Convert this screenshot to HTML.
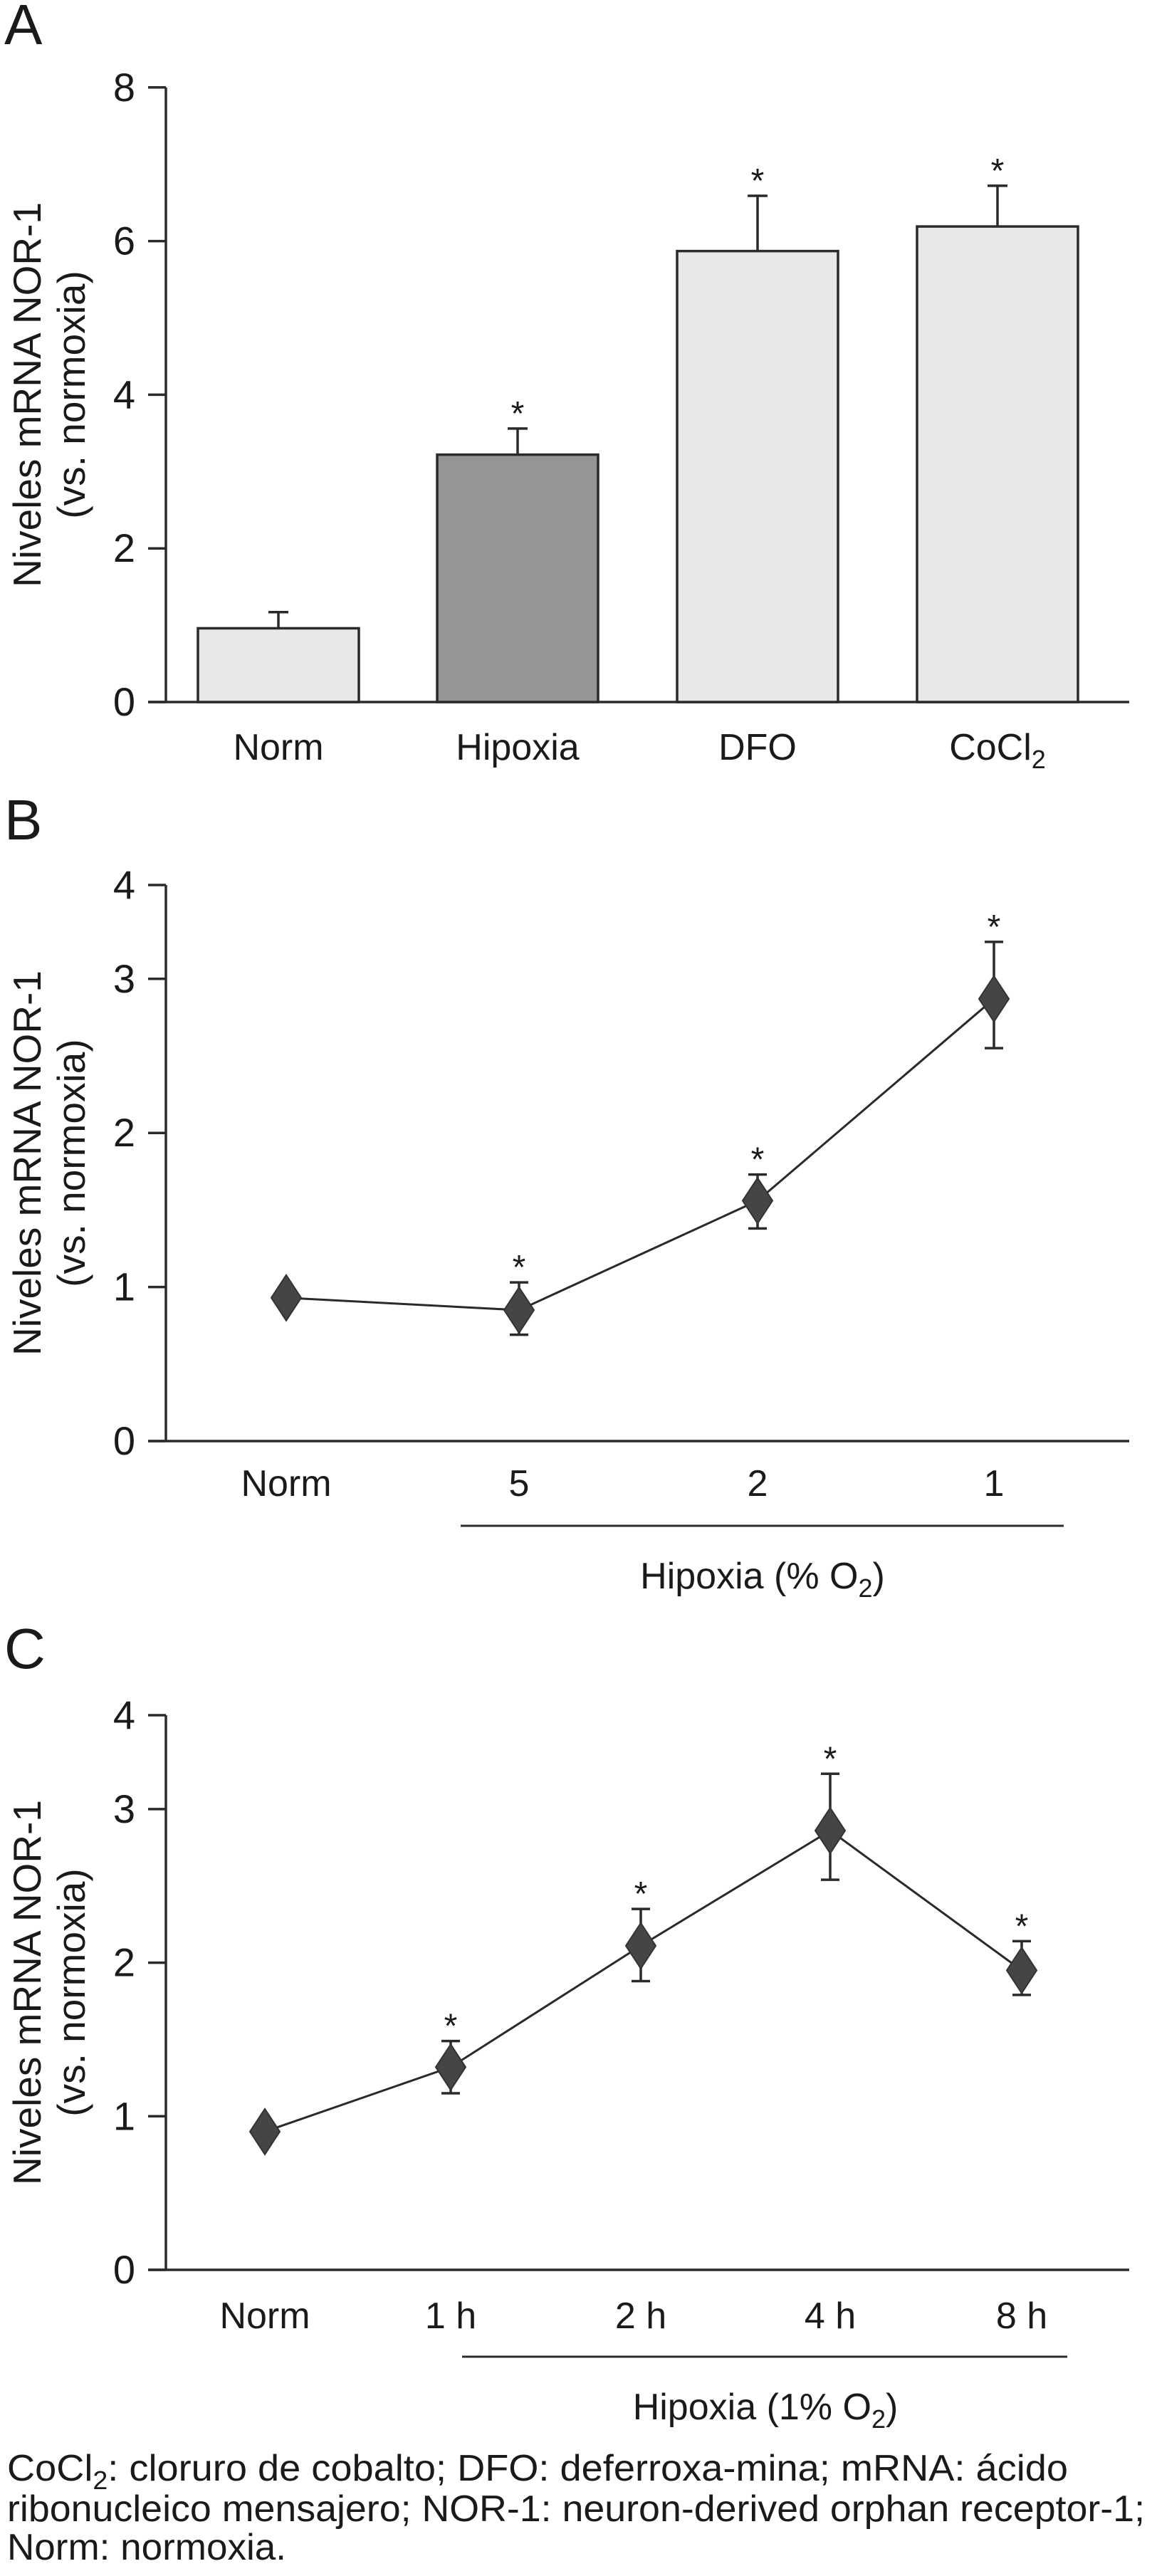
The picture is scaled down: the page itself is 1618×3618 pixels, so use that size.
<!DOCTYPE html>
<html><head><meta charset="utf-8"><style>
html,body{margin:0;padding:0;background:#fff}
svg{display:block}
text{font-family:"Liberation Sans",Arial,sans-serif;fill:#1a1a1a}
</style></head><body>
<svg id="fig" width="1618" height="3618" viewBox="0 0 1618 3618" xmlns="http://www.w3.org/2000/svg">
<g id="pa"></g>
<g id="pb"></g>
<g id="pc"></g>
<g font-size="52">
<text x="10" y="3484" textLength="1490" lengthAdjust="spacingAndGlyphs">CoCl<tspan font-size="36" dy="12">2</tspan><tspan dy="-12">: cloruro de cobalto; DFO: deferroxa-mina; mRNA: ácido</tspan></text>
<text x="10" y="3541" textLength="1598" lengthAdjust="spacingAndGlyphs">ribonucleico mensajero; NOR-1: neuron-derived orphan receptor-1;</text>
<text x="10" y="3595" textLength="392" lengthAdjust="spacingAndGlyphs">Norm: normoxia.</text>
</g>
</svg>
<script>
// Panel A data
const aCats = ["Norm","Hipoxia","DFO","CoCl"];
const aVals = [0.96, 3.22, 5.87, 6.19];
const aErr = [1.17, 3.56, 6.59, 6.72];
const aTicks = [0,2,4,6,8];
// Panel B data
const bCats = ["Norm","5","2","1"];
const bVals = [0.93, 0.85, 1.56, 2.87];
const bErrHi = [null, 1.03, 1.73, 3.24];
const bErrLo = [null, 0.69, 1.38, 2.55];
const bTicks = [0,1,2,3,4];
// Panel C data
const cCats = ["Norm","1 h","2 h","4 h","8 h"];
const cVals = [0.90, 1.32, 2.11, 2.86, 1.95];
const cErrHi = [null, 1.49, 2.35, 3.23, 2.14];
const cErrLo = [null, 1.15, 1.88, 2.54, 1.79];
const cTicks = [0,1,2,3,4];

const NS="http://www.w3.org/2000/svg";
const STROKE="#2a2a2a";
function mk(parent,tag,attrs,txt){const e=document.createElementNS(NS,tag);for(const k in attrs)e.setAttribute(k,attrs[k]);if(txt!==undefined)e.textContent=txt;parent.appendChild(e);return e;}

function axes(g,y0,unit,ticks,topTickY,letter,letterY){
  const ax=233;
  const yScale=v=>y0-unit*v;
  let l=mk(g,'text',{x:6,y:letterY,'font-size':80});l.textContent=letter;
  
  
  const yTop=topTickY;
  let a=mk(g,'line',{x1:ax,y1:yTop,x2:ax,y2:y0,stroke:STROKE,'stroke-width':3.5});
  
  
  let b=mk(g,'line',{x1:208,y1:y0,x2:1586,y2:y0,stroke:STROKE,'stroke-width':3.5});
  
  
  ticks.forEach((t,i)=>{
    const y=(i===ticks.length-1)?topTickY:yScale(t);
    let tk=mk(g,'line',{x1:208,y1:y,x2:ax,y2:y,stroke:STROKE,'stroke-width':3.5});
    
    
    let tl=mk(g,'text',{x:190,y:y+19,'font-size':56,'text-anchor':'end'},String(t));
    
    
  });
  const cy=(yTop+y0)/2;
  let t1=mk(g,'text',{x:0,y:0,'font-size':55,'text-anchor':'middle',transform:`translate(57,${cy}) rotate(-90)`},"Niveles mRNA NOR-1");
  
  
  let t2=mk(g,'text',{x:0,y:0,'font-size':55,'text-anchor':'middle',transform:`translate(119,${cy}) rotate(-90)`},"(vs. normoxia)");
  
  
  return yScale;
}
function star(g,x,y){
  let s=mk(g,'text',{x:x,y:y,'font-size':48,'text-anchor':'middle'},"*");
  
  
}
function errbar(g,x,yHi,yLo,w){
  let e=mk(g,'path',{d:`M${x-w},${yHi}H${x+w}M${x},${yHi}V${yLo}`,stroke:STROKE,'stroke-width':3.5,fill:'none'});
  
  
}

// Panel A
(function(){
  const g=document.getElementById('pa');
  const y=axes(g,986,107.9,aTicks,986-107.9*8,"A",62);
  const bx=[391,727,1064,1401], bw=226;
  aCats.forEach((c,i)=>{
    const x=bx[i];
    errbar(g,x,y(aErr[i]),y(aVals[i]),14);
    let r=mk(g,'rect',{x:x-bw/2,y:y(aVals[i]),width:bw,height:986-y(aVals[i]),fill:i===1?'#959595':'#e8e8e8',stroke:STROKE,'stroke-width':3.5});
    
    
    if(i>0) star(g,x,y(aErr[i])-5);
    let t=mk(g,'text',{x:x,y:1067,'font-size':52,'text-anchor':'middle'},c);
    if(i===3){mk(t,'tspan',{'font-size':36,dy:12},"2");}
    
    
  });
})();

function lineChart(gid,cats,vals,hi,lo,ticks,y0,unit,topY,letter,letterY,xs,labelY,hlY,hx1,hx2,hipText,hipX,hipY){
  const g=document.getElementById(gid);
  const y=axes(g,y0,unit,ticks,topY,letter,letterY);
  let pts=vals.map((v,i)=>xs[i]+','+y(v)).join(' ');
  let pl=mk(g,'polyline',{points:pts,fill:'none',stroke:STROKE,'stroke-width':3});
  
  
  vals.forEach((v,i)=>{
    const x=xs[i];
    if(hi[i]!==null){
      let e=mk(g,'path',{d:`M${x-13},${y(hi[i])}H${x+13}M${x},${y(hi[i])}V${y(lo[i])}M${x-13},${y(lo[i])}H${x+13}`,stroke:STROKE,'stroke-width':3.5,fill:'none'});
      
      
      star(g,x,y(hi[i])-5);
    }
    const cy=y(v);
    let d=mk(g,'polygon',{points:`${x},${cy-32} ${x+21},${cy} ${x},${cy+32} ${x-21},${cy}`,fill:'#454545',stroke:'#333','stroke-width':2});
    
    
    let t=mk(g,'text',{x:x,y:labelY,'font-size':52,'text-anchor':'middle'},cats[i]);
    
    
  });
  let h=mk(g,'line',{x1:hx1,y1:hlY,x2:hx2,y2:hlY,stroke:STROKE,'stroke-width':3});
  
  
  let ht=mk(g,'text',{x:hipX,y:hipY,'font-size':52,'text-anchor':'middle'},hipText);
  mk(ht,'tspan',{'font-size':36,dy:12},"2");
  mk(ht,'tspan',{dy:-12},")");
  
  
}
lineChart('pb',bCats,bVals,bErrHi,bErrLo,bTicks,2024,216.4,1243,"B",1179,[402,729,1064,1396],2101,2143,647,1494,"Hipoxia (% O",1071,2231);
lineChart('pc',cCats,cVals,cErrHi,cErrLo,cTicks,3188,215.7,2409,"C",2343,[372,633,900,1166,1435],3270,3310,649,1499,"Hipoxia (1% O",1075,3398);
</script>
</body></html>
